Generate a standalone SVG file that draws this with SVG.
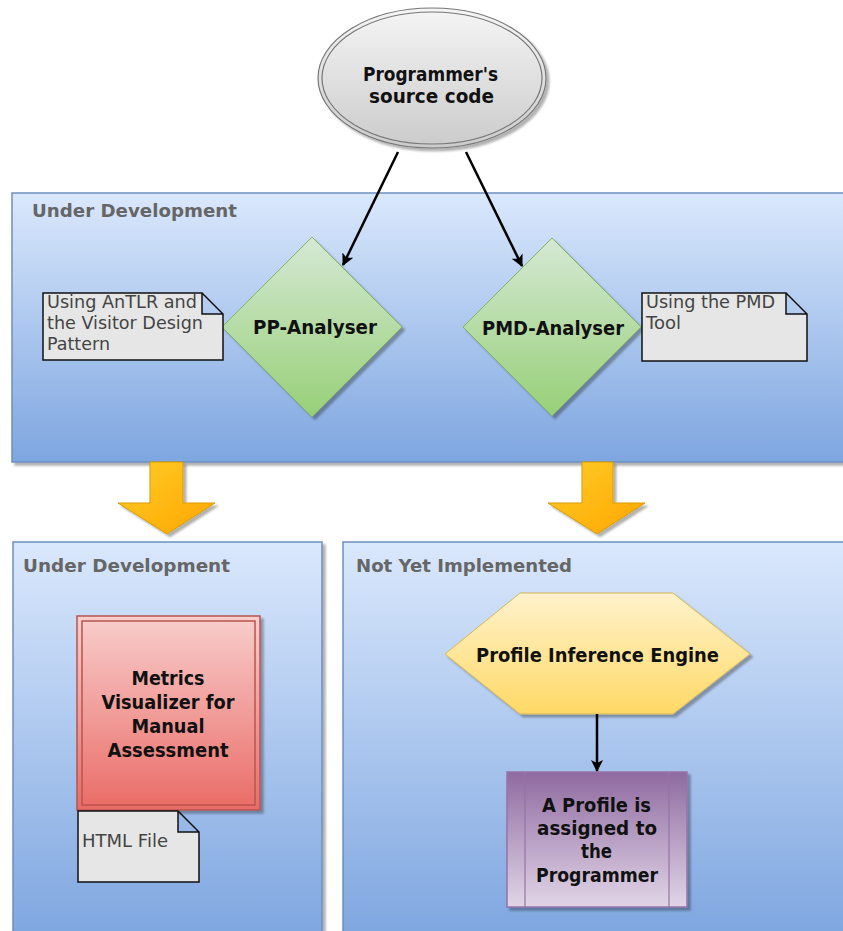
<svg xmlns="http://www.w3.org/2000/svg" width="843" height="931" viewBox="0 0 843 931">
  <defs>
    <linearGradient id="gBlue" x1="0" y1="0" x2="0" y2="1">
      <stop offset="0" stop-color="#dae8fc"/>
      <stop offset="1" stop-color="#7ea6e0"/>
    </linearGradient>
    <linearGradient id="gGray" x1="0" y1="0" x2="0" y2="1">
      <stop offset="0" stop-color="#f5f5f5"/>
      <stop offset="1" stop-color="#cbcbcb"/>
    </linearGradient>
    <linearGradient id="gGreen" x1="0" y1="0" x2="0" y2="1">
      <stop offset="0" stop-color="#d5e8d4"/>
      <stop offset="1" stop-color="#97d077"/>
    </linearGradient>
    <linearGradient id="gOrange" x1="0" y1="0" x2="1" y2="1">
      <stop offset="0" stop-color="#ffcd28"/>
      <stop offset="1" stop-color="#ffa500"/>
    </linearGradient>
    <linearGradient id="gRed" x1="0" y1="0" x2="0" y2="1">
      <stop offset="0" stop-color="#f8cecc"/>
      <stop offset="1" stop-color="#ea6b66"/>
    </linearGradient>
    <linearGradient id="gYellow" x1="0" y1="0" x2="0" y2="1">
      <stop offset="0" stop-color="#fff2cc"/>
      <stop offset="1" stop-color="#ffd966"/>
    </linearGradient>
    <linearGradient id="gPurple" x1="0" y1="0" x2="0" y2="1">
      <stop offset="0" stop-color="#8f6aa0"/>
      <stop offset="1" stop-color="#e1d5e7"/>
    </linearGradient>
    <filter id="shadow" x="-10%" y="-10%" width="130%" height="130%">
      <feDropShadow dx="3" dy="3" stdDeviation="1.2" flood-color="#000" flood-opacity="0.3"/>
    </filter>
    <marker id="arrow" viewBox="0 0 12 12" refX="11" refY="6" markerWidth="12" markerHeight="12" markerUnits="userSpaceOnUse" orient="auto">
      <path d="M0,0 L12,6 L0,12 L3,6 Z" fill="#000"/>
    </marker>
  </defs>
  <style>
    .container { fill: url(#gBlue); stroke: #6c8ebf; stroke-width: 1.5; filter: url(#shadow); }
    .title { font-family: "DejaVu Sans", Verdana, sans-serif; font-weight: bold; font-size: 18px; fill: #666666; }
    .label { font-family: "DejaVu Sans", Verdana, sans-serif; font-weight: bold; font-size: 20px; fill: #111111; text-anchor: middle; }
    .note { fill: #e6e6e6; stroke: #111; stroke-width: 1.5; }
    .noteText { font-family: "DejaVu Sans", Verdana, sans-serif; font-size: 17px; fill: #444444; }
    .edge { stroke: #000; stroke-width: 2.5; fill: none; marker-end: url(#arrow); }
    .block { fill: url(#gOrange); stroke: #d79b00; stroke-width: 1; filter: url(#shadow); }
  </style>

  <!-- containers -->
  <g id="top-container">
    <rect class="container" x="12" y="193" width="840" height="269"/>
    <text class="title" x="32" y="217" textLength="205" lengthAdjust="spacingAndGlyphs">Under Development</text>
  </g>
  <g id="left-container">
    <rect class="container" x="13" y="542" width="309" height="395"/>
    <text class="title" x="23" y="572" textLength="207" lengthAdjust="spacingAndGlyphs">Under Development</text>
  </g>
  <g id="right-container">
    <rect class="container" x="343" y="542" width="510" height="395"/>
    <text class="title" x="356" y="572" textLength="216" lengthAdjust="spacingAndGlyphs">Not Yet Implemented</text>
  </g>

  <!-- source node -->
  <g id="source">
    <ellipse cx="432" cy="78" rx="114" ry="70" fill="url(#gGray)" stroke="#777" stroke-width="1.2" filter="url(#shadow)"/>
    <ellipse cx="432" cy="78" rx="110" ry="66" fill="none" stroke="#777" stroke-width="1.2"/>
    <text class="label" font-size="18.5" x="430.5" y="81" textLength="135" lengthAdjust="spacingAndGlyphs">Programmer's</text>
    <text class="label" font-size="18.5" x="431.5" y="103" textLength="125" lengthAdjust="spacingAndGlyphs">source code</text>
  </g>

  <g id="pp-analyser">
    <polygon points="312,237 402,327 312,417 222,327" fill="url(#gGreen)" stroke="#82b366" stroke-width="1" filter="url(#shadow)"/>
    <text class="label" x="315" y="334" textLength="124" lengthAdjust="spacingAndGlyphs">PP-Analyser</text>
  </g>
  <g id="pmd-analyser">
    <polygon points="552,238 641,327 552,416 463,327" fill="url(#gGreen)" stroke="#82b366" stroke-width="1" filter="url(#shadow)"/>
    <text class="label" x="553" y="335" textLength="142" lengthAdjust="spacingAndGlyphs">PMD-Analyser</text>
  </g>

  <g id="note-antlr">
    <path class="note" d="M43,293 H202 L223,314 V360 H43 Z M202,293 V314 H223"/>
    <text class="noteText" x="47" y="308" textLength="150" lengthAdjust="spacingAndGlyphs">Using AnTLR and</text>
    <text class="noteText" x="47" y="329" textLength="156" lengthAdjust="spacingAndGlyphs">the Visitor Design</text>
    <text class="noteText" x="47" y="350" textLength="63" lengthAdjust="spacingAndGlyphs">Pattern</text>
  </g>
  <g id="note-pmd">
    <path class="note" d="M642,293 H786 L807,314 V361 H642 Z M786,293 V314 H807"/>
    <text class="noteText" x="646" y="308" textLength="129" lengthAdjust="spacingAndGlyphs">Using the PMD</text>
    <text class="noteText" x="646" y="329" textLength="35" lengthAdjust="spacingAndGlyphs">Tool</text>
  </g>

  <g id="metrics-visualizer">
    <rect x="77" y="616" width="183" height="194" fill="url(#gRed)" stroke="#b85450" stroke-width="1.5" filter="url(#shadow)"/>
    <rect x="82" y="621" width="173" height="184" fill="none" stroke="#b85450" stroke-width="1.5"/>
    <text class="label" font-size="19.5" x="168" y="685" textLength="73" lengthAdjust="spacingAndGlyphs">Metrics</text>
    <text class="label" font-size="19.5" x="168" y="709" textLength="133" lengthAdjust="spacingAndGlyphs">Visualizer for</text>
    <text class="label" font-size="19.5" x="168" y="733" textLength="73" lengthAdjust="spacingAndGlyphs">Manual</text>
    <text class="label" font-size="19.5" x="168" y="757" textLength="121" lengthAdjust="spacingAndGlyphs">Assessment</text>
  </g>
  <g id="note-html">
    <path class="note" d="M78,811 H178 L199,832 V882 H78 Z M178,811 V832 H199"/>
    <text class="noteText" x="82" y="847" textLength="86" lengthAdjust="spacingAndGlyphs">HTML File</text>
  </g>

  <g id="inference-engine">
    <polygon points="445,654 520,593 673,593 750,654 673,714 520,714" fill="url(#gYellow)" stroke="#d6b656" stroke-width="1" filter="url(#shadow)"/>
    <text class="label" x="597.5" y="662" textLength="243" lengthAdjust="spacingAndGlyphs">Profile Inference Engine</text>
  </g>

  <g id="profile-assigned">
    <rect x="507" y="772" width="180" height="135" fill="url(#gPurple)" stroke="#9673a6" stroke-width="1.5" filter="url(#shadow)"/>
    <line x1="525" y1="772" x2="525" y2="907" stroke="#9673a6" stroke-width="1.2"/>
    <line x1="669" y1="772" x2="669" y2="907" stroke="#9673a6" stroke-width="1.2"/>
    <text class="label" font-size="18.5" x="596.5" y="812" textLength="109" lengthAdjust="spacingAndGlyphs">A Profile is</text>
    <text class="label" font-size="18.5" x="597" y="835" textLength="120" lengthAdjust="spacingAndGlyphs">assigned to</text>
    <text class="label" font-size="18.5" x="596.5" y="858" textLength="31" lengthAdjust="spacingAndGlyphs">the</text>
    <text class="label" font-size="18.5" x="597" y="882" textLength="122" lengthAdjust="spacingAndGlyphs">Programmer</text>
  </g>

  <!-- connectors -->
  <g id="connectors">
    <line class="edge" x1="398" y1="152" x2="343" y2="265"/>
    <line class="edge" x1="466" y1="152" x2="522" y2="266"/>
    <line class="edge" x1="597" y1="714" x2="597" y2="771"/>
    <polygon class="block" points="150,462 183,462 183,503 215,503 167,534 118,503 150,503"/>
    <polygon class="block" points="582,462 613,462 613,503 645,503 597,534 548,503 582,503"/>
  </g>
</svg>
